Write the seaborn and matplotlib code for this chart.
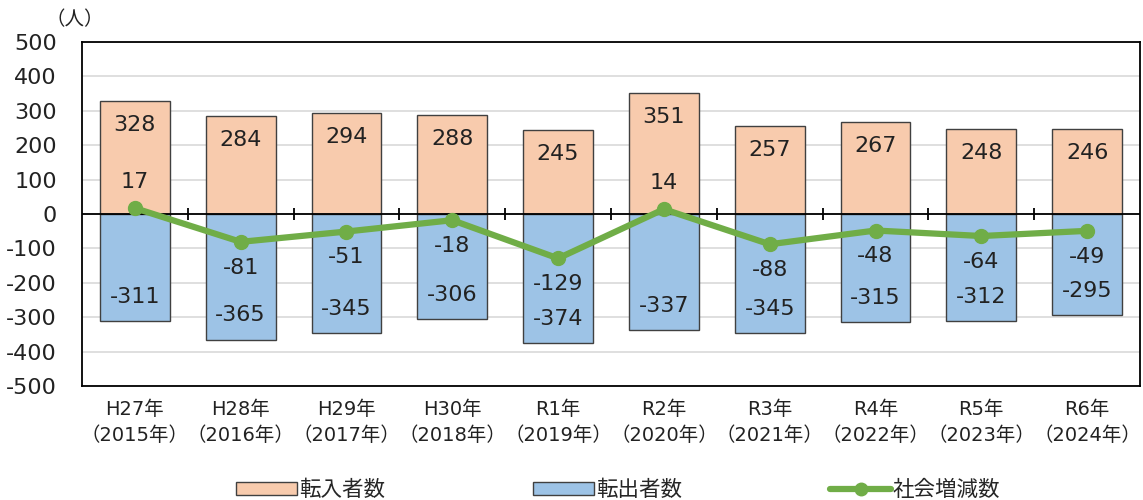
import numpy as np
import pandas as pd
import matplotlib
matplotlib.use("Agg")
import matplotlib.pyplot as plt
from matplotlib.patches import Patch
from matplotlib.lines import Line2D
import seaborn as sns

years = ["H27年\n（2015年）", "H28年\n（2016年）", "H29年\n（2017年）", "H30年\n（2018年）",
         "R1年\n（2019年）", "R2年\n（2020年）", "R3年\n（2021年）", "R4年\n（2022年）",
         "R5年\n（2023年）", "R6年\n（2024年）"]
inflow = [328, 284, 294, 288, 245, 351, 257, 267, 248, 246]
outflow = [-311, -365, -345, -306, -374, -337, -345, -315, -312, -295]
net = [17, -81, -51, -18, -129, 14, -88, -48, -64, -49]

ORANGE = "#F8CBAD"
BLUE = "#9DC3E6"
GREEN = "#70AD47"
TXT = "#222222"

sns.set_theme(style="white")
plt.rcParams["font.family"] = ["DejaVu Sans", "Noto Sans CJK JP"]
plt.rcParams["axes.unicode_minus"] = False

df = pd.DataFrame({"year": years, "inflow": inflow, "outflow": outflow, "net": net})

fig = plt.figure(figsize=(11.43, 5.0), dpi=100)
ax = fig.add_axes([0.0717, 0.228, 0.9257, 0.688])

sns.barplot(data=df, x="year", y="inflow", color=ORANGE, width=0.66,
            edgecolor="#404040", linewidth=1, saturation=1, ax=ax, zorder=2)
sns.barplot(data=df, x="year", y="outflow", color=BLUE, width=0.66,
            edgecolor="#404040", linewidth=1, saturation=1, ax=ax, zorder=2)
ax.plot(np.arange(len(df)), df["net"], color=GREEN, lw=4.5, marker="o",
        markersize=10, zorder=4)

# value labels
for i, (a, b, c) in enumerate(zip(inflow, outflow, net)):
    ax.text(i, a - 70, f"{a}", ha="center", va="center", fontsize=16, color=TXT, zorder=5)
    ax.text(i, b + 70, f"{b}", ha="center", va="center", fontsize=16, color=TXT, zorder=5)
    off = 75 if c >= 0 else -75
    ax.text(i, c + off, f"{c}", ha="center", va="center", fontsize=16, color=TXT, zorder=5)

ax.set_ylim(-500, 500)
ax.set_xlim(-0.5, len(df) - 0.5)
ax.set_yticks(np.arange(-500, 501, 100))
ax.tick_params(axis="y", labelsize=16, length=0, pad=18, labelcolor=TXT)
ax.tick_params(axis="x", labelsize=14, length=0, pad=10, labelcolor=TXT)
for lbl in ax.get_xticklabels():
    lbl.set_linespacing(1.5)
ax.set_xlabel("")
ax.set_ylabel("")
ax.yaxis.grid(True, color="#D9D9D9", lw=1.2, zorder=0)
ax.set_axisbelow(True)
for s in ax.spines.values():
    s.set_color("black")
    s.set_linewidth(1.3)

# category axis at zero with boundary ticks
ax.axhline(0, color="black", lw=1.3, zorder=3)
bounds = np.arange(0.5, len(df) - 0.5, 1)
ax.vlines(bounds, -18, 18, color="black", lw=1.3, zorder=3)

fig.text(0.040, 0.96, "（人）", fontsize=14, ha="left", va="center", color=TXT)

handles = [
    Patch(facecolor=ORANGE, edgecolor="#404040", label="転入者数"),
    Patch(facecolor=BLUE, edgecolor="#404040", label="転出者数"),
    Line2D([0], [0], color=GREEN, lw=4.5, marker="o", markersize=9, label="社会増減数"),
]
fig.legend(handles=handles, loc="center", bbox_to_anchor=(0.541, 0.02), ncol=3,
           frameon=False, fontsize=15.5, handlelength=2.8, handleheight=0.55,
           handletextpad=0.1, columnspacing=6.9)

fig.savefig("out.png", dpi=100)
